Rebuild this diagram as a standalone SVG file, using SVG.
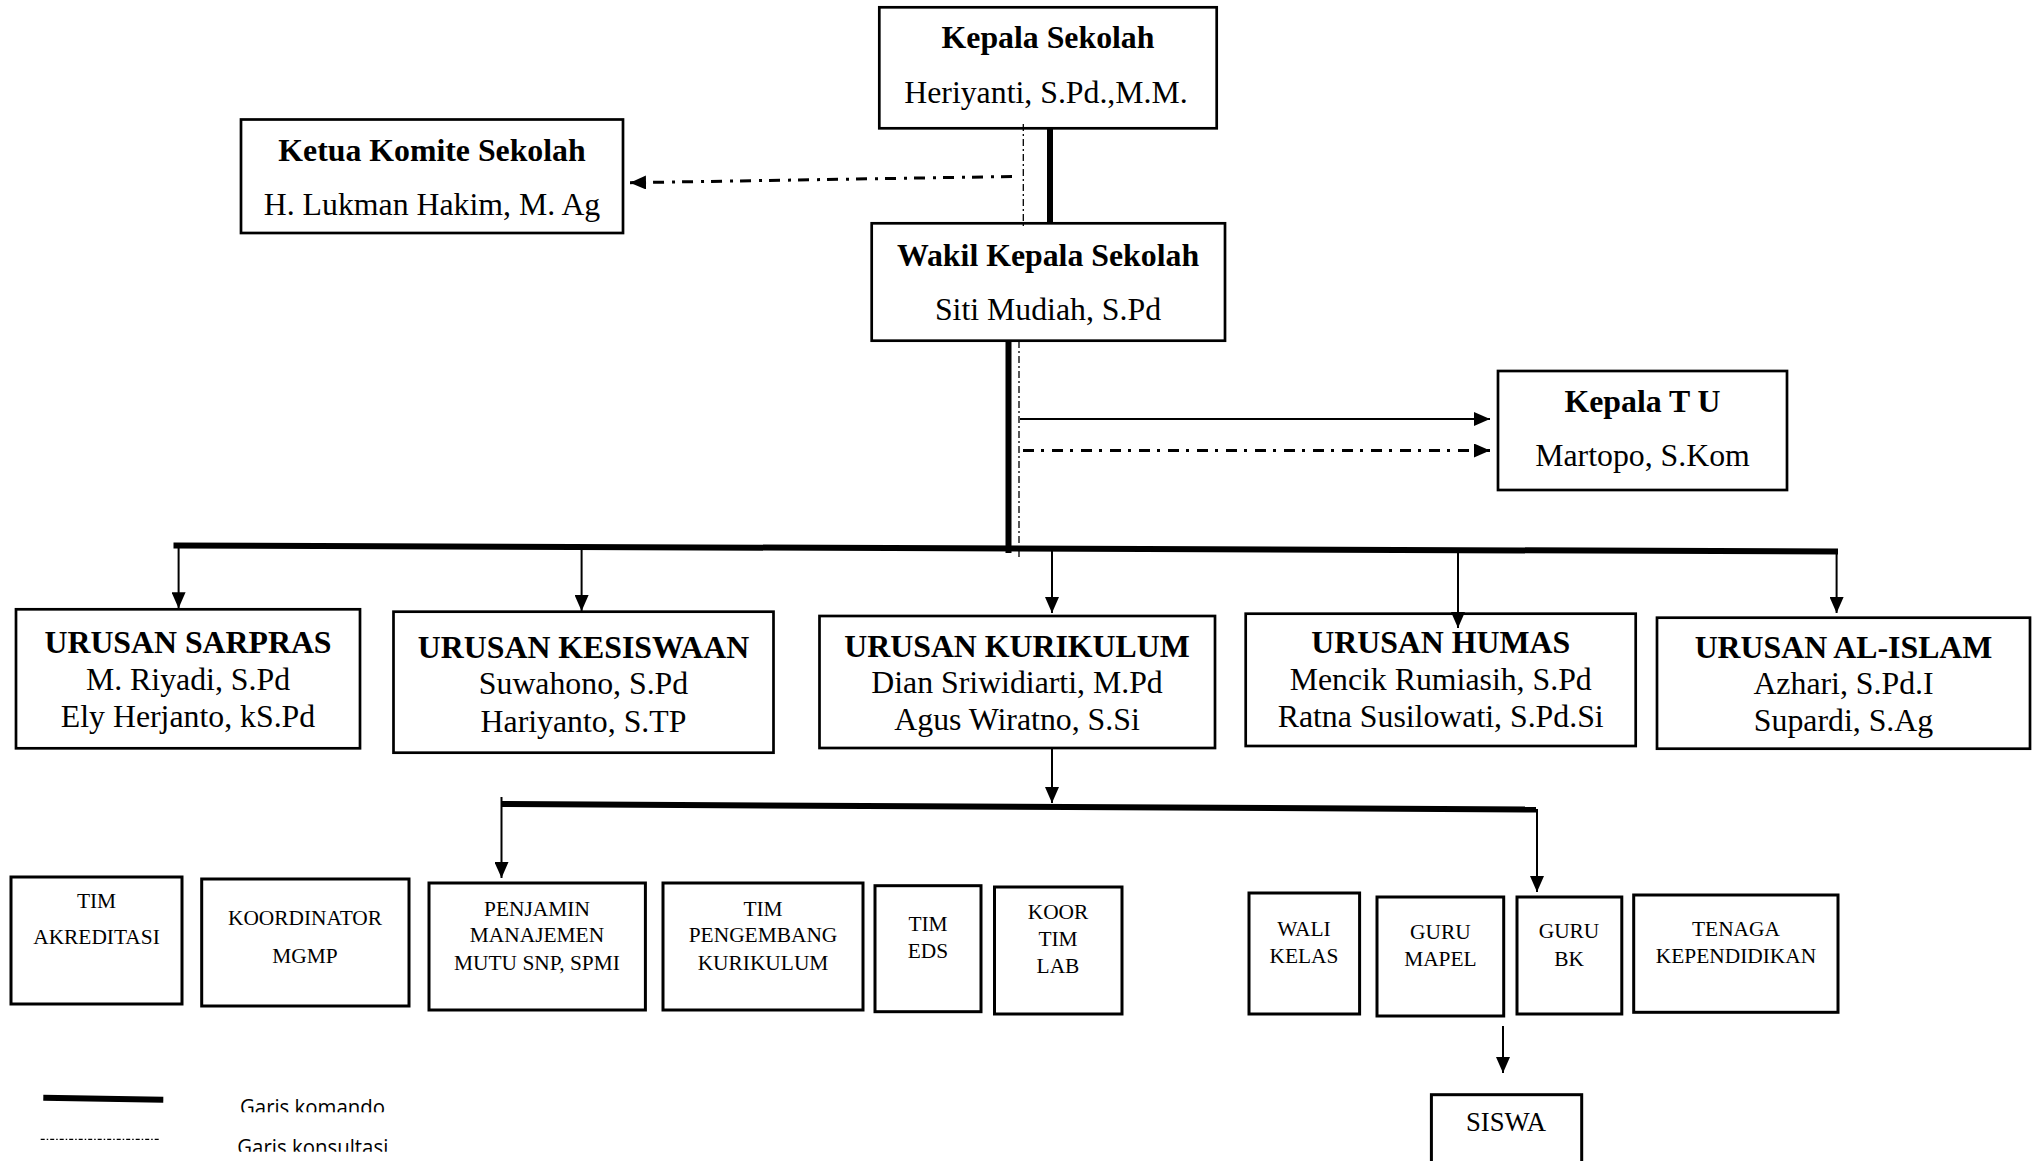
<svg xmlns="http://www.w3.org/2000/svg" width="2036" height="1161" viewBox="0 0 2036 1161">
<style>
.box{fill:#fff;stroke:#000;stroke-width:2.7}
.sbox{fill:#fff;stroke:#000;stroke-width:3}
.t{font-family:"Liberation Serif","Times New Roman",serif;text-anchor:middle;fill:#000}
.h{font-size:31.8px;font-weight:bold}
.n{font-size:31.8px}
.s{font-size:21.4px}
.cmd{stroke:#000;stroke-width:6;fill:none}
.arr{stroke:#000;stroke-width:2;fill:none;marker-end:url(#ah)}
.dd{stroke:#000;stroke-width:3;fill:none;stroke-dasharray:11 7 3 8;marker-end:url(#ah)}
.thin{stroke:#000;stroke-width:1.3;fill:none;stroke-dasharray:7 3 2 3}
.lg{font-family:"Open Sans","Liberation Sans",sans-serif;font-size:21px;fill:#000}
</style>
<defs>
<marker id="ah" markerUnits="userSpaceOnUse" markerWidth="16" markerHeight="14" refX="16" refY="7" orient="auto" viewBox="0 0 16 14"><path d="M0,0 L16,7 L0,14 z" fill="#000"/></marker>
<clipPath id="c1"><rect x="200" y="1080" width="250" height="32.3"/></clipPath>
<clipPath id="c2"><rect x="200" y="1120" width="250" height="31.7"/></clipPath>
</defs>
<g id="kepala-sekolah">
<rect class="box" x="879.3" y="7.3" width="337.4" height="121"/>
<text class="t h" x="1048" y="48.3">Kepala Sekolah</text>
<text class="t n" x="1046" y="102.7">Heriyanti, S.Pd.,M.M.</text>
</g>
<g id="ketua-komite">
<rect class="box" x="241" y="119.5" width="382" height="113.5"/>
<text class="t h" x="432" y="160.5">Ketua Komite Sekolah</text>
<text class="t n" x="432" y="215">H. Lukman Hakim, M. Ag</text>
</g>
<g id="wakil-kepala">
<rect class="box" x="871.7" y="223.3" width="353.3" height="117.4"/>
<text class="t h" x="1048" y="265.7">Wakil Kepala Sekolah</text>
<text class="t n" x="1048" y="320">Siti Mudiah, S.Pd</text>
</g>
<g id="kepala-tu">
<rect class="box" x="1498" y="371" width="289" height="119"/>
<text class="t h" x="1642.5" y="411.7">Kepala T U</text>
<text class="t n" x="1642.5" y="465.7">Martopo, S.Kom</text>
</g>
<g id="urusan-sarpras">
<rect class="box" x="16" y="609.3" width="344" height="139"/>
<text class="t h" x="188" y="653.3">URUSAN SARPRAS</text>
<text class="t n" x="188" y="690">M. Riyadi, S.Pd</text>
<text class="t n" x="188" y="726.7">Ely Herjanto, kS.Pd</text>
</g>
<g id="urusan-kesiswaan">
<rect class="box" x="393.5" y="611.7" width="380" height="141"/>
<text class="t h" x="583.5" y="657.7">URUSAN KESISWAAN</text>
<text class="t n" x="583.5" y="694.3">Suwahono, S.Pd</text>
<text class="t n" x="583.5" y="731.7">Hariyanto, S.TP</text>
</g>
<g id="urusan-kurikulum">
<rect class="box" x="819.5" y="616" width="395.5" height="132"/>
<text class="t h" x="1017" y="657">URUSAN KURIKULUM</text>
<text class="t n" x="1017" y="693.3">Dian Sriwidiarti, M.Pd</text>
<text class="t n" x="1017" y="730">Agus Wiratno, S.Si</text>
</g>
<g id="urusan-humas">
<rect class="box" x="1245.7" y="613.7" width="390" height="132.3"/>
<text class="t h" x="1440.7" y="653">URUSAN HUMAS</text>
<text class="t n" x="1440.7" y="690">Mencik Rumiasih, S.Pd</text>
<text class="t n" x="1440.7" y="726.7">Ratna Susilowati, S.Pd.Si</text>
</g>
<g id="urusan-al-islam">
<rect class="box" x="1657" y="617.7" width="373" height="131"/>
<text class="t h" x="1843.5" y="657.7">URUSAN AL-ISLAM</text>
<text class="t n" x="1843.5" y="694">Azhari, S.Pd.I</text>
<text class="t n" x="1843.5" y="731">Supardi, S.Ag</text>
</g>
<g id="tim-akreditasi">
<rect class="sbox" x="11" y="877" width="171" height="127"/>
<text class="t s" x="96.5" y="908">TIM</text>
<text class="t s" x="96.5" y="944">AKREDITASI</text>
</g>
<g id="koordinator-mgmp">
<rect class="sbox" x="201.7" y="879" width="207.3" height="127"/>
<text class="t s" x="305" y="925">KOORDINATOR</text>
<text class="t s" x="305" y="962.7">MGMP</text>
</g>
<g id="penjamin-mutu">
<rect class="sbox" x="429" y="883" width="216.4" height="127"/>
<text class="t s" x="537" y="915.7">PENJAMIN</text>
<text class="t s" x="537" y="942.3">MANAJEMEN</text>
<text class="t s" x="537" y="970">MUTU SNP, SPMI</text>
</g>
<g id="tim-pengembang">
<rect class="sbox" x="663" y="883" width="200" height="127"/>
<text class="t s" x="763" y="915.7">TIM</text>
<text class="t s" x="763" y="942.3">PENGEMBANG</text>
<text class="t s" x="763" y="970">KURIKULUM</text>
</g>
<g id="tim-eds">
<rect class="sbox" x="875" y="885.7" width="106" height="126"/>
<text class="t s" x="928" y="930.7">TIM</text>
<text class="t s" x="928" y="957.7">EDS</text>
</g>
<g id="koor-tim-lab">
<rect class="sbox" x="994.5" y="887" width="127.5" height="127"/>
<text class="t s" x="1058" y="919.3">KOOR</text>
<text class="t s" x="1058" y="945.7">TIM</text>
<text class="t s" x="1058" y="972.7">LAB</text>
</g>
<g id="wali-kelas">
<rect class="sbox" x="1249" y="893" width="110.6" height="121"/>
<text class="t s" x="1304" y="936">WALI</text>
<text class="t s" x="1304" y="962.7">KELAS</text>
</g>
<g id="guru-mapel">
<rect class="sbox" x="1377" y="897" width="126.7" height="119"/>
<text class="t s" x="1440.4" y="939.3">GURU</text>
<text class="t s" x="1440.4" y="966">MAPEL</text>
</g>
<g id="guru-bk">
<rect class="sbox" x="1517" y="897" width="104.8" height="117"/>
<text class="t s" x="1569" y="938.3">GURU</text>
<text class="t s" x="1569" y="966">BK</text>
</g>
<g id="tenaga-kependidikan">
<rect class="sbox" x="1633.7" y="895" width="204.3" height="117.3"/>
<text class="t s" x="1736" y="936">TENAGA</text>
<text class="t s" x="1736" y="963.3">KEPENDIDIKAN</text>
</g>
<g id="siswa">
<rect class="sbox" x="1431.4" y="1094.7" width="150.3" height="80"/>
<text class="t" font-size="26.7" x="1506" y="1130.7">SISWA</text>
</g>
<g id="connectors">
<line class="cmd" x1="1050" y1="128.5" x2="1050" y2="223.3"/>
<line class="thin" x1="1023.3" y1="124" x2="1023.3" y2="228.3"/>
<line class="dd" x1="1012" y1="176.5" x2="630" y2="182.7"/>
<line class="cmd" x1="1008.5" y1="341" x2="1008.5" y2="553"/>
<line class="thin" x1="1019" y1="341" x2="1019" y2="557"/>
<line class="arr" stroke-width="2.5" x1="1020" y1="419" x2="1490" y2="419"/>
<line class="dd" x1="1023" y1="450.5" x2="1490" y2="450.5"/>
<line class="cmd" x1="173.5" y1="545.5" x2="1838" y2="551.5"/>
<line class="arr" x1="178.6" y1="548" x2="178.6" y2="608.3"/>
<line class="arr" x1="581.6" y1="549" x2="581.6" y2="611"/>
<line class="arr" x1="1052" y1="550" x2="1052" y2="613"/>
<line class="arr" x1="1458" y1="551" x2="1458" y2="628"/>
<line class="arr" x1="1836.6" y1="551" x2="1836.6" y2="613"/>
<line class="arr" x1="1052" y1="748" x2="1052" y2="803"/>
<line class="cmd" x1="501" y1="804" x2="1536" y2="809.5"/>
<line class="arr" x1="501.5" y1="797" x2="501.5" y2="878"/>
<line class="arr" x1="1537" y1="809" x2="1537" y2="892"/>
<line class="arr" x1="1503" y1="1026" x2="1503" y2="1073"/>
</g>
<g id="legend">
<line x1="43.3" y1="1097.8" x2="163.3" y2="1099.7" stroke="#000" stroke-width="6"/>
<g clip-path="url(#c1)"><text class="lg" x="240" y="1115" textLength="145" lengthAdjust="spacingAndGlyphs">Garis komando</text></g>
<line x1="40.7" y1="1139.3" x2="159.3" y2="1139.3" stroke="#000" stroke-width="1.2" stroke-dasharray="4 2 1.5 2"/>
<g clip-path="url(#c2)"><text class="lg" x="237.3" y="1155" textLength="151" lengthAdjust="spacingAndGlyphs">Garis konsultasi</text></g>
</g>
</svg>
